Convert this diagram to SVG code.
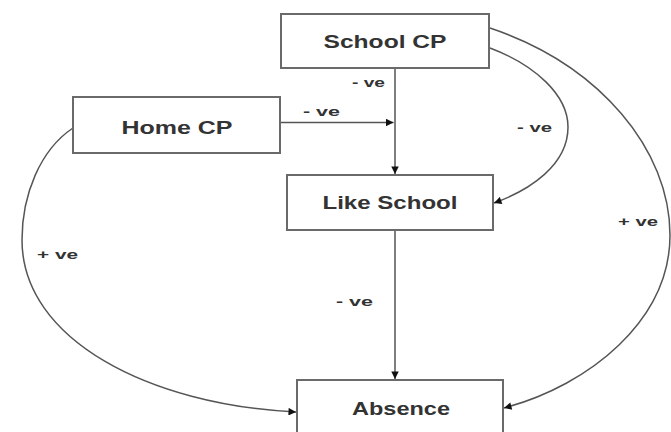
<svg xmlns="http://www.w3.org/2000/svg" width="671" height="432" viewBox="0 0 671 432">
<style>
.box{fill:#fff;stroke:#6a6a6a;stroke-width:2}
.lbl{font-family:"Liberation Sans",Arial,sans-serif;font-weight:bold;font-size:18px;fill:#333;text-anchor:middle;dominant-baseline:central}
.sm{font-family:"Liberation Sans",Arial,sans-serif;font-weight:bold;font-size:12px;fill:#333}
.edge{fill:none;stroke:#555;stroke-width:1.5;marker-end:url(#ah)}
</style>
<defs>
<marker id="ah" viewBox="0 0 10 10" refX="10" refY="5" markerWidth="6" markerHeight="5" orient="auto" markerUnits="strokeWidth">
<path d="M0,0 L10,5 L0,10 z" fill="#111"/>
</marker>
</defs>
<rect width="671" height="432" fill="#fff"/>
<g id="connectors">
<path class="edge" d="M395,68 L395,174"/>
<path class="edge" d="M280,122.5 L393.5,122.5"/>
<path class="edge" d="M395,230 L395,379"/>
<path class="edge" d="M490,48 C535,65 568,95 568,127 C568,165 530,190 494,203"/>
<path class="edge" d="M490,28 C600,65 670,150 670,235 C670,320 590,385 504,408"/>
<path class="edge" d="M73,128 C40,150 22,195 22,240 C22,340 150,405 296,412"/>
</g>
<g id="labels">
<text class="sm" x="352" y="87" textLength="33" lengthAdjust="spacingAndGlyphs">- ve</text>
<text class="sm" x="303" y="116" textLength="37" lengthAdjust="spacingAndGlyphs">- ve</text>
<text class="sm" x="517" y="132" textLength="35" lengthAdjust="spacingAndGlyphs">- ve</text>
<text class="sm" x="618" y="226" textLength="40" lengthAdjust="spacingAndGlyphs">+ ve</text>
<text class="sm" x="37" y="259" textLength="41" lengthAdjust="spacingAndGlyphs">+ ve</text>
<text class="sm" x="336" y="306" textLength="37" lengthAdjust="spacingAndGlyphs">- ve</text>
</g>
<g id="school-cp">
<rect class="box" x="281" y="14" width="208" height="54"/>
<text class="lbl" x="385" y="42" textLength="123" lengthAdjust="spacingAndGlyphs">School CP</text>
</g>
<g id="home-cp">
<rect class="box" x="73" y="97" width="207" height="56"/>
<text class="lbl" x="177" y="128" textLength="111" lengthAdjust="spacingAndGlyphs">Home CP</text>
</g>
<g id="like-school">
<rect class="box" x="287" y="175" width="206" height="55"/>
<text class="lbl" x="390" y="203" textLength="135" lengthAdjust="spacingAndGlyphs">Like School</text>
</g>
<g id="absence">
<rect class="box" x="297" y="380" width="206" height="60"/>
<text class="lbl" x="401" y="409" textLength="98" lengthAdjust="spacingAndGlyphs">Absence</text>
</g>
</svg>
